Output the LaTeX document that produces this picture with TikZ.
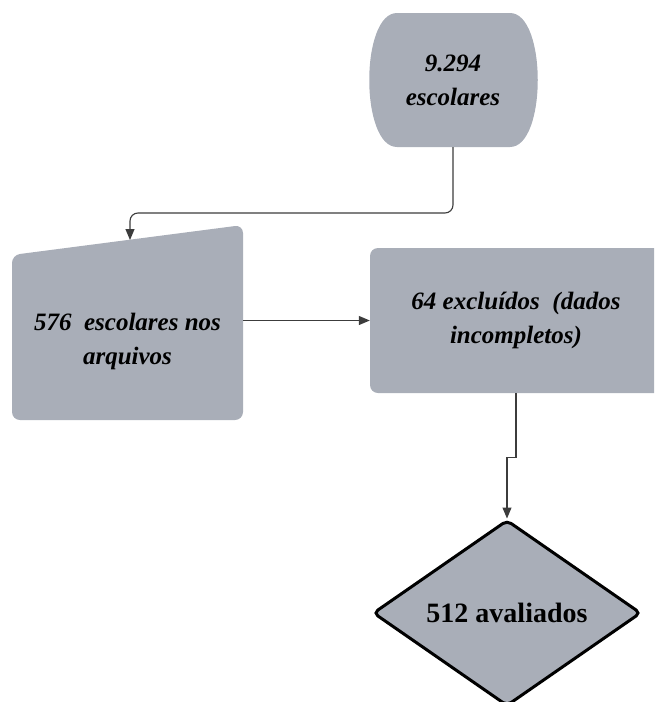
\documentclass[tikz,border=0pt]{standalone}
\usepackage{fontspec}
\setmainfont{Liberation Serif}
\usetikzlibrary{arrows.meta,positioning,shapes.geometric}
\definecolor{boxgray}{RGB}{169,174,184}
\definecolor{linegray}{RGB}{60,60,60}

\begin{document}
\begin{tikzpicture}[x=1pt,y=-1pt,
  txt/.style={align=center,font=\fontsize{25}{34}\selectfont\bfseries\itshape,inner sep=0pt},
  box/.style={fill=boxgray,rounded corners=8pt},
  ar/.style={-{Triangle[length=11pt,width=9pt]},draw=linegray,line width=1.1pt}]
  \useasboundingbox (0,0) rectangle (654,702);
  \clip (0,0) rectangle (654,702);
  % custom outlines
  \fill[boxgray] (397,13) -- (510,13) .. controls (547,13) and (547,147) .. (510,147)
     -- (397,147) .. controls (360,147) and (360,13) .. cycle;
  \fill[box] (12,255) -- (243,225) -- (243,420) -- (12,420) -- cycle;
  % nodes
  \node[txt,minimum width=169pt,minimum height=134pt] (esc) at (453,80) {9.294\\escolares};
  \node[txt,minimum width=231pt,minimum height=195pt] (arq) at (127.5,341) {576~ escolares nos\\arquivos};
  \coordinate (arqtop) at (130,240);
  \node[txt,box,minimum width=292pt,minimum height=145pt] (exc) at (516,320.5) {64 excluídos~ (dados\\incompletos)};
  \node[diamond,fill=boxgray,draw=black,line width=3pt,rounded corners=5pt,inner sep=0pt,
        minimum width=268pt,minimum height=186pt,font=\fontsize{28}{30}\selectfont\bfseries] (aval) at (507,613) {512 avaliados};
  % connectors
  \coordinate (bend) at (130,213);
  \draw[ar,rounded corners=8pt] (esc.south) |- (bend) -- (arqtop);
  \draw[ar] (arq.east |- exc.west) -- (exc.west);
  \draw[ar] (exc.south) -- ++(0,64) -| (aval.north);
\end{tikzpicture}
\end{document}
